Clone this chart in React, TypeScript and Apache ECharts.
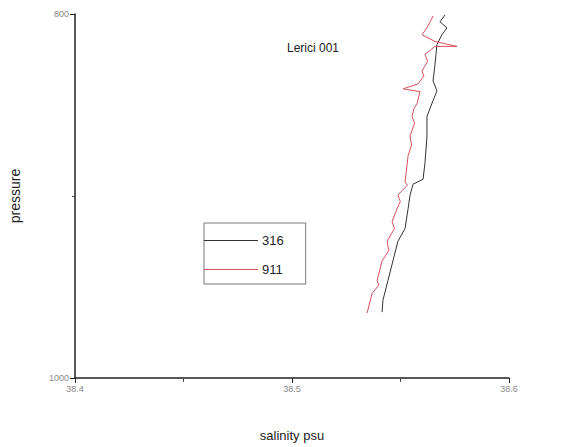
import React, { useEffect, useRef } from "react";
import * as echarts from "echarts";

// Salinity (psu) / pressure profiles for two casts at Lerici station 001
const cast316Salinity = [
  38.5705, 38.5682, 38.5714, 38.5691, 38.5668, 38.5659, 38.565, 38.5668, 38.565,
  38.5622, 38.5622, 38.5613, 38.5604, 38.5558, 38.5544, 38.5535, 38.5521,
  38.5488, 38.5465, 38.5442, 38.5419, 38.5415,
];
const cast316Pressure = [
  800.5, 804.3, 807.6, 811.4, 816.8, 827.6, 836.8, 842.2, 847.6, 856.2, 867.0,
  881.6, 890.8, 893.5, 899.5, 907.0, 917.8, 924.9, 935.7, 946.5, 957.3, 963.8,
];

const cast911Salinity = [
  38.565, 38.5622, 38.5599, 38.5659, 38.576, 38.5659, 38.5613, 38.5625,
  38.5599, 38.5608, 38.5581, 38.5512, 38.559, 38.5576, 38.5562, 38.5553,
  38.5565, 38.5544, 38.5551, 38.5535, 38.5521, 38.5532, 38.5488, 38.5499,
  38.5484, 38.5461, 38.5472, 38.5438, 38.5446, 38.5415, 38.5392, 38.54,
  38.5369, 38.5346,
];
const cast911Pressure = [
  801.1, 807.6, 811.4, 815.1, 817.8, 817.8, 822.2, 826.0, 831.4, 834.0, 838.4,
  841.1, 842.7, 849.2, 852.0, 856.2, 860.0, 867.0, 872.0, 877.8, 892.4, 894.0,
  899.5, 903.0, 907.0, 914.1, 918.0, 924.9, 930.0, 935.7, 946.5, 949.0, 953.5,
  964.3,
];

const seriesNames = ["316", "911"];
const chartTitle = "Lerici 001";

const pairs = (xs: number[], ys: number[]) => xs.map((x, i) => [x, ys[i]]);

export default function App() {
  const ref = useRef<HTMLDivElement>(null);

  useEffect(() => {
    if (!ref.current) return;
    const chart = echarts.init(ref.current, undefined, { renderer: "svg" });
    const font = "'Liberation Sans', Arial, sans-serif";
    chart.setOption({
      animation: false,
      backgroundColor: "#ffffff",
      textStyle: { fontFamily: font },
      grid: { left: 75, right: 58, top: 14, bottom: 63 },
      title: {
        text: chartTitle,
        left: 282,
        top: 37,
        textStyle: { fontSize: 12, fontWeight: "normal", color: "#222", fontFamily: font },
      },
      legend: {
        orient: "vertical",
        left: 204,
        top: 223,
        icon: "rect",
        itemWidth: 54,
        itemHeight: 1,
        itemGap: 16,
        padding: [11, 22, 8, 0],
        borderColor: "#777",
        borderWidth: 1,
        textStyle: { fontSize: 13, color: "#222", fontFamily: font, padding: [0, 0, 0, -1] },
        data: seriesNames,
      },
      xAxis: {
        type: "value",
        min: 38.4,
        max: 38.6,
        interval: 0.1,
        name: "salinity psu",
        nameLocation: "middle",
        nameGap: 51,
        nameTextStyle: { fontSize: 13, color: "#222", fontFamily: font },
        axisLine: { lineStyle: { color: "#222", width: 1.5 } },
        axisTick: { show: true, inside: false, length: 5, lineStyle: { color: "#222" } },
        minorTick: { show: true, splitNumber: 2, length: 4, lineStyle: { color: "#444" } },
        splitLine: { show: false },
        axisLabel: {
          fontSize: 9,
          color: "#888",
          margin: 6,
          formatter: (v: number) => v.toFixed(1),
        },
      },
      yAxis: {
        type: "value",
        inverse: true,
        min: 800,
        max: 1000,
        interval: 200,
        name: "pressure",
        nameLocation: "middle",
        nameGap: 53,
        nameRotate: 90,
        nameTextStyle: { fontSize: 14, color: "#222", fontFamily: font },
        axisLine: { show: true, lineStyle: { color: "#222", width: 1.5 } },
        axisTick: { show: true, inside: false, length: 5, lineStyle: { color: "#222" } },
        minorTick: { show: true, splitNumber: 2, length: 3, lineStyle: { color: "#444" } },
        splitLine: { show: false },
        axisLabel: { fontSize: 9, color: "#888", margin: 6, formatter: (v: number) => String(v) },
      },
      series: [
        {
          name: seriesNames[0],
          type: "line",
          data: pairs(cast316Salinity, cast316Pressure),
          showSymbol: false,
          color: "#333333",
          lineStyle: { width: 1, color: "#333333" },
        },
        {
          name: seriesNames[1],
          type: "line",
          data: pairs(cast911Salinity, cast911Pressure),
          showSymbol: false,
          color: "#d9505f",
          lineStyle: { width: 1, color: "#d9505f" },
        },
      ],
    });
    return () => chart.dispose();
  }, []);

  return (
    <div
      ref={ref}
      style={{ position: "fixed", left: 0, top: 0, width: 567, height: 447 }}
    />
  );
}
